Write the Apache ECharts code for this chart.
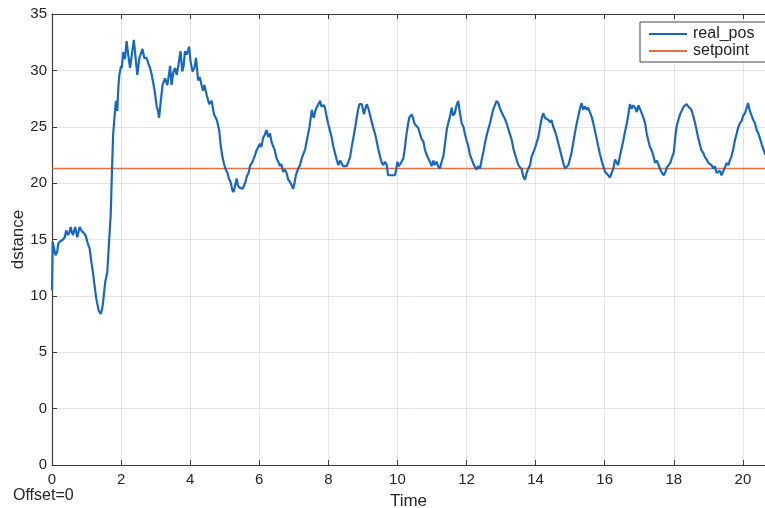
<!DOCTYPE html>
<html>
<head>
<meta charset="utf-8">
<script src="https://cdn.jsdelivr.net/npm/echarts@6/dist/echarts.min.js"></script>
<style>
html,body{margin:0;padding:0;background:#fff;}
#chart{width:765px;height:508px;}
</style>
</head>
<body>
<div id="chart"></div>
<script>
// ---- data ----
const xTicks = [0, 2, 4, 6, 8, 10, 12, 14, 16, 18, 20];
const yTicks = [35, 30, 25, 20, 15, 10, 5, 0, 0];
const setpointValue = 21.3;
const timeRange = [0, 20.64];
const realPos = [
[0,10.5],[0.02,14.8],[0.06,14.8],[0.10,13.6],[0.15,13.9],[0.18,14.6],[0.22,14.8],[0.27,14.9],[0.32,15.0],[0.37,15.2],
[0.41,15.8],[0.46,15.4],[0.50,15.6],[0.54,16.1],[0.58,15.6],[0.61,15.4],[0.67,16.1],[0.70,15.7],[0.73,15.2],[0.77,15.7],
[0.80,16.1],[0.85,15.8],[0.90,15.8],[0.94,15.5],[0.98,15.3],[1.02,14.8],[1.06,14.7],[1.09,14.2],[1.14,13.0],[1.18,12.2],
[1.22,11.2],[1.28,9.8],[1.35,8.7],[1.41,8.4],[1.45,8.8],[1.48,9.5],[1.54,11.2],[1.60,12.1],[1.64,14.2],[1.70,17.2],
[1.73,20.5],[1.77,24.3],[1.80,25.5],[1.85,27.3],[1.89,26.4],[1.92,28.5],[1.95,29.6],[2.00,30.4],[2.02,30.2],[2.06,31.6],
[2.11,31.0],[2.16,32.6],[2.21,31.3],[2.26,30.2],[2.31,31.4],[2.37,32.7],[2.42,31.1],[2.47,29.6],[2.53,31.1],[2.58,31.2],
[2.62,31.9],[2.67,31.1],[2.74,31.1],[2.79,30.6],[2.84,30.2],[2.88,29.7],[2.93,28.9],[2.98,28.0],[3.03,26.8],[3.07,26.4],
[3.10,25.8],[3.15,27.3],[3.20,28.7],[3.27,29.3],[3.34,28.7],[3.42,30.4],[3.46,28.7],[3.51,29.8],[3.56,30.2],[3.61,29.6],
[3.66,30.5],[3.72,31.7],[3.77,29.9],[3.81,30.4],[3.85,31.7],[3.90,31.4],[3.97,32.1],[4.01,30.8],[4.07,29.9],[4.12,30.2],
[4.17,31.1],[4.23,29.1],[4.28,29.4],[4.33,28.7],[4.37,28.2],[4.41,28.7],[4.48,27.8],[4.55,27.0],[4.62,27.3],[4.69,26.1],
[4.77,25.6],[4.84,24.7],[4.88,23.4],[4.93,22.4],[4.98,21.7],[5.03,21.2],[5.08,20.9],[5.12,20.4],[5.17,20.1],[5.22,19.4],
[5.26,19.2],[5.30,19.8],[5.35,20.4],[5.38,19.8],[5.43,19.6],[5.48,19.7],[5.52,19.5],[5.56,19.6],[5.60,20.1],[5.64,20.6],
[5.69,20.9],[5.74,21.6],[5.79,21.8],[5.83,22.1],[5.88,22.5],[5.92,22.9],[5.97,23.2],[6.02,23.5],[6.06,23.2],[6.11,24.0],
[6.16,24.3],[6.21,24.7],[6.26,24.1],[6.31,24.4],[6.36,23.6],[6.40,23.3],[6.45,22.9],[6.50,22.2],[6.55,21.9],[6.60,21.5],
[6.64,21.7],[6.69,21.0],[6.74,21.2],[6.79,20.9],[6.84,20.3],[6.89,20.1],[6.94,19.8],[6.98,19.5],[7.02,20.0],[7.06,20.7],
[7.13,21.3],[7.18,21.6],[7.23,22.2],[7.29,22.7],[7.33,23.0],[7.37,23.7],[7.41,24.3],[7.45,24.9],[7.49,25.8],[7.52,26.5],
[7.55,26.0],[7.58,25.8],[7.62,26.4],[7.66,26.7],[7.71,27.0],[7.76,27.3],[7.80,26.8],[7.83,26.7],[7.87,26.9],[7.90,26.7],
[7.95,25.9],[8.00,25.2],[8.05,24.6],[8.10,24.0],[8.14,23.3],[8.19,22.7],[8.24,22.1],[8.29,21.6],[8.34,22.0],[8.38,22.1],
[8.43,21.5],[8.48,21.6],[8.53,21.5],[8.58,21.6],[8.63,22.3],[8.67,23.1],[8.74,24.3],[8.78,25.0],[8.82,25.8],[8.86,26.5],
[8.90,27.0],[8.97,27.0],[9.03,26.1],[9.07,26.6],[9.11,27.0],[9.16,26.6],[9.20,26.1],[9.25,25.5],[9.30,24.9],[9.34,24.5],
[9.38,24.0],[9.44,23.1],[9.51,22.2],[9.55,21.8],[9.59,21.6],[9.64,21.9],[9.69,21.6],[9.73,20.7],[9.78,20.6],[9.83,20.7],
[9.88,20.6],[9.93,20.7],[9.97,21.3],[10.00,21.9],[10.04,21.5],[10.07,21.6],[10.12,21.9],[10.17,22.2],[10.21,23.0],[10.26,24.3],
[10.30,25.1],[10.34,25.8],[10.38,25.9],[10.41,26.1],[10.45,25.8],[10.48,25.4],[10.51,25.2],[10.56,25.3],[10.60,24.9],[10.65,24.4],
[10.70,23.9],[10.75,23.7],[10.80,22.9],[10.84,22.9],[10.89,22.2],[10.94,21.9],[10.99,21.5],[11.04,22.0],[11.08,21.6],[11.13,21.9],
[11.18,21.5],[11.23,21.3],[11.28,21.9],[11.33,22.4],[11.38,23.6],[11.43,24.8],[11.47,25.3],[11.52,25.9],[11.57,26.7],[11.61,26.0],
[11.66,26.2],[11.71,26.9],[11.76,27.3],[11.81,26.2],[11.86,25.3],[11.91,25.0],[11.95,24.4],[12.00,23.8],[12.05,23.3],[12.10,22.5],
[12.15,22.1],[12.20,21.7],[12.25,21.4],[12.29,21.2],[12.34,21.5],[12.39,21.3],[12.44,22.1],[12.49,22.8],[12.53,23.5],[12.58,24.2],
[12.63,24.8],[12.68,25.3],[12.73,26.0],[12.78,26.6],[12.82,26.9],[12.87,27.3],[12.92,27.1],[12.97,26.6],[13.01,26.5],[13.06,26.0],
[13.11,25.7],[13.16,25.3],[13.21,24.8],[13.26,24.3],[13.31,23.8],[13.36,23.0],[13.40,22.6],[13.45,22.1],[13.50,21.6],[13.55,21.4],
[13.60,21.2],[13.64,20.6],[13.69,20.3],[13.74,20.9],[13.79,21.3],[13.84,21.6],[13.88,22.3],[13.93,22.7],[13.98,23.1],[14.03,23.6],
[14.08,24.1],[14.13,25.0],[14.18,25.8],[14.22,26.2],[14.27,25.8],[14.32,25.9],[14.37,25.6],[14.42,25.4],[14.46,25.6],[14.51,25.0],
[14.56,24.6],[14.61,24.1],[14.66,23.5],[14.71,22.9],[14.75,22.4],[14.80,21.8],[14.85,21.3],[14.90,21.2],[14.95,21.6],[14.99,22.1],
[15.04,22.7],[15.09,23.6],[15.14,24.5],[15.19,25.3],[15.24,26.0],[15.29,26.7],[15.33,27.1],[15.38,26.5],[15.43,26.8],[15.48,26.5],
[15.52,26.7],[15.57,26.8],[15.62,25.9],[15.67,25.3],[15.72,24.6],[15.77,23.9],[15.81,23.3],[15.86,22.6],[15.91,22.0],[15.96,21.5],
[16.01,21.0],[16.06,21.1],[16.10,20.7],[16.15,20.5],[16.20,20.6],[16.25,21.3],[16.30,22.1],[16.35,21.8],[16.39,21.6],[16.44,22.4],
[16.49,23.1],[16.54,23.8],[16.59,24.6],[16.64,25.3],[16.69,26.2],[16.73,27.0],[16.78,26.6],[16.83,26.9],[16.88,26.7],[16.93,26.3],
[16.98,26.9],[17.02,26.8],[17.07,26.2],[17.12,25.8],[17.17,25.3],[17.21,24.5],[17.26,23.8],[17.31,23.2],[17.36,22.9],[17.41,22.4],
[17.46,21.8],[17.51,22.0],[17.56,21.9],[17.61,21.2],[17.66,20.9],[17.71,20.7],[17.76,21.0],[17.80,21.4],[17.85,21.5],[17.90,21.8],
[17.95,22.3],[18.00,22.7],[18.04,24.0],[18.08,25.0],[18.13,25.6],[18.18,26.1],[18.24,26.5],[18.29,26.8],[18.33,26.9],[18.37,27.0],
[18.42,26.8],[18.47,26.7],[18.51,26.5],[18.56,26.0],[18.61,25.4],[18.66,24.7],[18.70,24.1],[18.75,23.5],[18.80,22.9],[18.85,22.7],
[18.90,22.3],[18.95,22.1],[19.00,21.8],[19.04,21.9],[19.09,21.6],[19.14,21.3],[19.19,21.5],[19.24,20.9],[19.29,20.8],[19.33,21.1],
[19.38,20.7],[19.43,20.8],[19.48,21.4],[19.53,21.8],[19.58,21.6],[19.62,22.0],[19.67,22.4],[19.72,23.0],[19.77,23.8],[19.82,24.4],
[19.86,24.9],[19.91,25.3],[19.96,25.5],[20.01,26.0],[20.06,26.2],[20.10,26.6],[20.15,27.1],[20.20,26.4],[20.25,26.0],[20.30,25.6],
[20.35,25.3],[20.40,24.7],[20.45,24.4],[20.50,23.9],[20.55,23.4],[20.59,23.3],[20.64,22.6],[20.70,22.4]
];
const setpoint = [[timeRange[0], setpointValue], [timeRange[1] + 0.1, setpointValue]];

// ---- chart ----
const FONT = '"Liberation Sans", Arial, Helvetica, sans-serif';
const AXC = '#3a3a3a';
const chart = echarts.init(document.getElementById('chart'), null, {renderer: 'canvas'});
const yMin = -5, yMax = 35;
chart.setOption({
  animation: false,
  backgroundColor: '#ffffff',
  textStyle: {fontFamily: FONT},
  grid: {left: 52, top: 14, right: 0, bottom: 43, containLabel: false, outerBoundsMode: 'none'},
  legend: {
    left: 640, top: 22, orient: 'vertical',
    backgroundColor: '#ffffff', borderColor: '#444', borderWidth: 1, borderRadius: 0,
    padding: [4, 30, 3, 9], itemGap: 1, itemWidth: 38, itemHeight: 2,
    textStyle: {fontFamily: FONT, fontSize: 16, color: '#222', padding: [0, 0, 0, 1]},
    data: [{name: 'real_pos', icon: 'rect'}, {name: 'setpoint', icon: 'rect'}]
  },
  xAxis: [{
    type: 'value', min: timeRange[0], max: timeRange[1], interval: 2,
    name: 'Time', nameLocation: 'middle', nameGap: 28, nameMoveOverlap: false,
    nameTextStyle: {fontFamily: FONT, fontSize: 17, color: '#262626'},
    axisLine: {show: true, onZero: false, lineStyle: {color: AXC, width: 1.2}},
    axisTick: {show: true, inside: true, length: 5, lineStyle: {color: AXC}},
    axisLabel: {show: true, margin: 7, fontSize: 15, color: '#262626', fontFamily: FONT, showMaxLabel: false,
      formatter: v => (xTicks.indexOf(v) >= 0 ? String(v) : '')},
    splitLine: {show: true, lineStyle: {color: '#e4e4e4', width: 1}}
  }, {
    type: 'value', position: 'top', min: timeRange[0], max: timeRange[1], interval: 2,
    axisLine: {show: true, onZero: false, lineStyle: {color: AXC, width: 1.2}},
    axisTick: {show: true, inside: true, length: 5, lineStyle: {color: AXC}},
    axisLabel: {show: false}, splitLine: {show: false}
  }],
  yAxis: [{
    type: 'value', min: yMin, max: yMax, interval: 5,
    name: 'dstance', nameLocation: 'middle', nameGap: 25, nameRotate: 90, nameMoveOverlap: false,
    nameTextStyle: {fontFamily: FONT, fontSize: 17, color: '#262626'},
    axisLine: {show: true, onZero: false, lineStyle: {color: AXC, width: 1.2}},
    axisTick: {show: true, inside: true, length: 5, lineStyle: {color: AXC}},
    axisLabel: {show: true, margin: 5, fontSize: 15, color: '#262626', fontFamily: FONT,
      formatter: v => {
        const idx = Math.round((yMax - v) / 5);
        return yTicks[idx] !== undefined ? String(yTicks[idx]) : '';
      }},
    splitLine: {show: true, lineStyle: {color: '#e4e4e4', width: 1}}
  }],
  graphic: [{
    type: 'text', left: 13, top: 488,
    style: {text: 'Offset=0', fontFamily: FONT, fontSize: 16, fill: '#262626'}
  }],
  series: [{
    name: 'real_pos', type: 'line', data: realPos, showSymbol: false, symbol: 'none',
    clip: true, lineStyle: {color: '#1768c4', width: 2.2}, itemStyle: {color: '#1768c4'}, z: 3
  }, {
    name: 'setpoint', type: 'line', data: setpoint, showSymbol: false, symbol: 'none',
    clip: true, lineStyle: {color: '#e4713f', width: 1.6}, itemStyle: {color: '#e4713f'}, z: 2
  }]
});
</script>
</body>
</html>
